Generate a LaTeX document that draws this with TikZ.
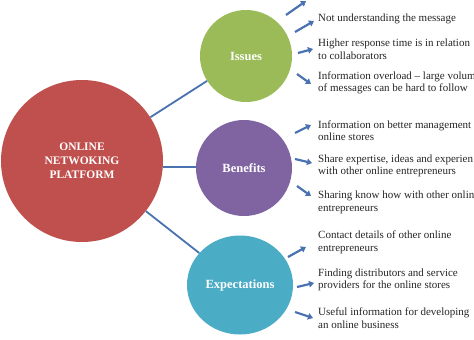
\documentclass[tikz,border=0pt]{standalone}
\usepackage{fontspec}
\setmainfont{Liberation Serif}
\usetikzlibrary{arrows.meta,shapes.geometric}
\definecolor{cred}{HTML}{C0504D}
\definecolor{cgreen}{HTML}{9BBB59}
\definecolor{cpurple}{HTML}{8064A2}
\definecolor{cteal}{HTML}{4BACC6}
\definecolor{cline}{HTML}{4A72B0}
\definecolor{ctext}{HTML}{262626}
\begin{document}
\begin{tikzpicture}[x=1pt,y=-1pt,
  hub/.style={circle,fill=#1,inner sep=0pt,text=white,align=center,
    font=\bfseries\fontsize{12.5}{14}\selectfont},
  conn/.style={draw=cline,line width=1.8pt},
  arr/.style={draw=cline,line width=2.2pt,-{Triangle[length=5pt,width=6.5pt]}},
  item/.style={anchor=west,inner sep=0pt,align=left,text=ctext,
    font=\fontsize{11}{12.5}\selectfont}]
\clip (0,0) rectangle (474,340);
\fill[white] (0,0) rectangle (474,340);
% hubs
\node[hub=cred,minimum size=162pt,font=\bfseries\fontsize{11.5}{14}\selectfont] (main) at (82,161) {ONLINE\\NETWOKING\\PLATFORM};
\node[hub=cgreen,minimum size=92pt] (iss) at (246,56) {Issues};
\node[hub=cpurple,minimum size=96pt] (ben) at (244,168) {Benefits};
\node[hub=cteal,ellipse,minimum width=106pt,minimum height=99pt] (exp) at (240,285) {Expectations};
% connectors
\draw[conn] (main) -- (iss);
\draw[conn] (main.east |- 0,167) -- (ben.west |- 0,167);
\draw[conn] (main) -- (exp);
% issues items
\node[item] (i1) at (318,19) {Not understanding the message};
\node[item] (i2) at (318,49) {Higher response time is in relation\\to collaborators};
\node[item] (i3) at (318,83) {Information overload -- large volum\\of messages can be hard to follow};
% benefits items
\node[item] (b1) at (318,130.5) {Information on better management\\online stores};
\node[item] (b2) at (318,166) {Share expertise, ideas and experien\\with other online entrepreneurs};
\node[item] (b3) at (318,202.5) {Sharing know how with other onlin\\entrepreneurs};
% expectations items
\node[item] (e1) at (318,242.5) {Contact details of other online\\entrepreneurs};
\node[item] (e2) at (318,280) {Finding distributors and service\\providers for the online stores};
\node[item] (e3) at (318,318) {Useful information for developing\\an online business};
% arrows
\coordinate (ia0) at (286,15); \coordinate (ia1) at (306,1);
\coordinate (ib0) at (295,32); \coordinate (ib1) at (314,21);
\coordinate (ic0) at (298,53); \coordinate (ic1) at (313,49);
\coordinate (id0) at (297,74); \coordinate (id1) at (311,84);
\draw[arr] (ia0) -- (ia1);
\draw[arr] (ib0) -- (ib1);
\draw[arr] (ic0) -- (ic1);
\draw[arr] (id0) -- (id1);
\coordinate (ba0) at (295,133); \coordinate (ba1) at (311,125);
\coordinate (bb0) at (295,159); \coordinate (bb1) at (312,163);
\coordinate (bc0) at (297,186); \coordinate (bc1) at (311,196);
\draw[arr] (ba0) -- (ba1);
\draw[arr] (bb0) -- (bb1);
\draw[arr] (bc0) -- (bc1);
\coordinate (ea0) at (288,257); \coordinate (ea1) at (306,247);
\coordinate (eb0) at (297,287); \coordinate (eb1) at (314,283);
\coordinate (ec0) at (295,312); \coordinate (ec1) at (313,318);
\draw[arr] (ea0) -- (ea1);
\draw[arr] (eb0) -- (eb1);
\draw[arr] (ec0) -- (ec1);
\end{tikzpicture}
\end{document}
